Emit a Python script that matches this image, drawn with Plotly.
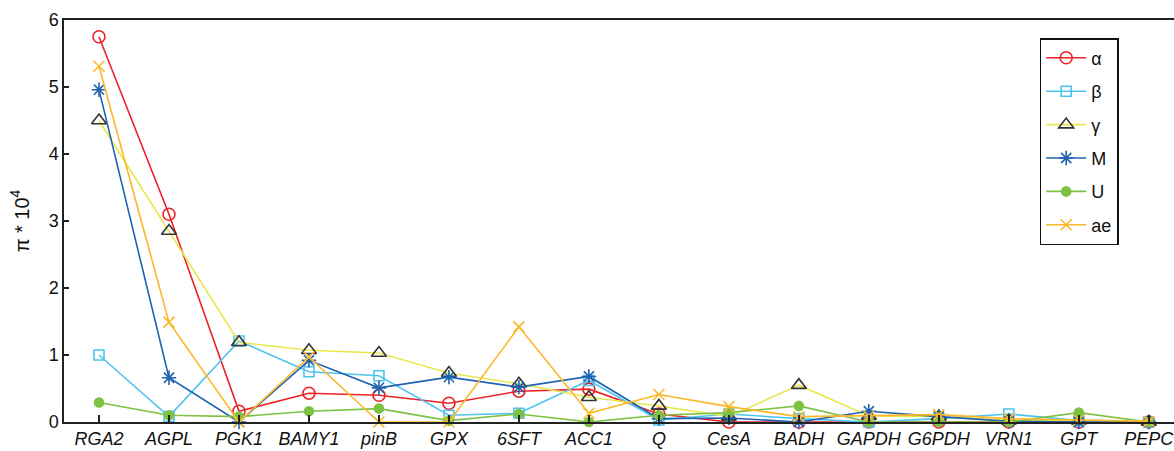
import plotly.graph_objects as go

genes = ["RGA2", "AGPL", "PGK1", "BAMY1", "pinB", "GPX", "6SFT", "ACC1", "Q", "CesA",
         "BADH", "GAPDH", "G6PDH", "VRN1", "GPT", "PEPC"]

alpha = [5.75, 3.10, 0.16, 0.43, 0.40, 0.28, 0.46, 0.49, 0.12, 0.00, 0.00, 0.00, 0.00, 0.00, 0.00, 0.00]
beta  = [1.00, 0.08, 1.21, 0.75, 0.69, 0.10, 0.13, 0.62, 0.03, 0.12, 0.05, 0.00, 0.05, 0.12, 0.02, 0.00]
gamma = [4.50, 2.85, 1.19, 1.07, 1.03, 0.73, 0.57, 0.37, 0.24, 0.08, 0.55, 0.09, 0.08, 0.02, 0.02, 0.00]
M     = [4.96, 0.66, 0.00, 0.92, 0.51, 0.67, 0.52, 0.68, 0.05, 0.06, 0.00, 0.16, 0.08, 0.01, 0.00, 0.00]
U     = [0.29, 0.10, 0.08, 0.16, 0.20, 0.02, 0.12, 0.00, 0.10, 0.14, 0.24, 0.00, 0.00, 0.00, 0.14, 0.00]
ae    = [5.31, 1.49, 0.00, 0.97, 0.00, 0.00, 1.42, 0.13, 0.41, 0.23, 0.08, 0.09, 0.11, 0.05, 0.03, 0.01]

series = [
    ("α", alpha, "#EC2227", "circle-open", "#EC2227", 12),
    ("β", beta, "#4FC3F0", "square-open", "#4FC3F0", 10),
    ("γ", gamma, "#E8E84E", "triangle-up-open", "#333333", 13),
    ("M", M, "#1F63B0", "asterisk-open", "#1F63B0", 12),
    ("U", U, "#7DC243", "circle", "#7DC243", 9),
    ("ae", ae, "#FBB829", "x-thin-open", "#FBB829", 11),
]

fig = go.Figure()
xs = list(range(len(genes)))
for i, (name, vals, lc, sym, mc, ms) in enumerate(series):
    fig.add_trace(go.Scatter(
        x=xs, y=vals, name=name, mode="lines+markers",
        legendgroup=f"g{i}",
        line=dict(color=lc, width=1.6),
        marker=dict(symbol=sym, size=ms, color=mc,
                    line=dict(color=mc, width=1.6)),
        cliponaxis=False,
    ))

fig.update_layout(
    width=1174, height=451,
    template="none",
    paper_bgcolor="white", plot_bgcolor="white",
    margin=dict(l=64, r=0, t=20, b=29),
    font=dict(family="Liberation Sans, Arial, sans-serif", size=18, color="#111111"),
    showlegend=True,
    legend=dict(x=0.879, y=0.955, xanchor="left", yanchor="top",
                bordercolor="#111111", borderwidth=1.5, bgcolor="white",
                font=dict(size=18), tracegroupgap=7, itemwidth=40),
    xaxis=dict(
        range=[-0.5, 15.36], tickmode="array", tickvals=xs, ticktext=genes,
        tickfont=dict(size=18, style="italic"), ticklabeloverflow="allow",
        ticks="inside", ticklen=7, tickwidth=1.5, tickcolor="#222222",
        showline=True, linecolor="#222222", linewidth=1.5, mirror=True,
        showgrid=False, zeroline=False, automargin=False,
    ),
    yaxis=dict(
        range=[0, 6], tickvals=[0, 1, 2, 3, 4, 5, 6],
        tickfont=dict(size=18),
        ticks="inside", ticklen=5, tickwidth=1.5, tickcolor="#222222",
        showline=True, linecolor="#222222", linewidth=1.5,
        showgrid=False, zeroline=False, automargin=False,
        title=dict(text="π * 10<sup>4</sup>", font=dict(size=20), standoff=14),
    ),
)

fig.write_html(
    "out.html",
    config={"displayModeBar": False},
    post_script="document.body.style.margin='0';document.body.style.overflow='hidden';",
)
